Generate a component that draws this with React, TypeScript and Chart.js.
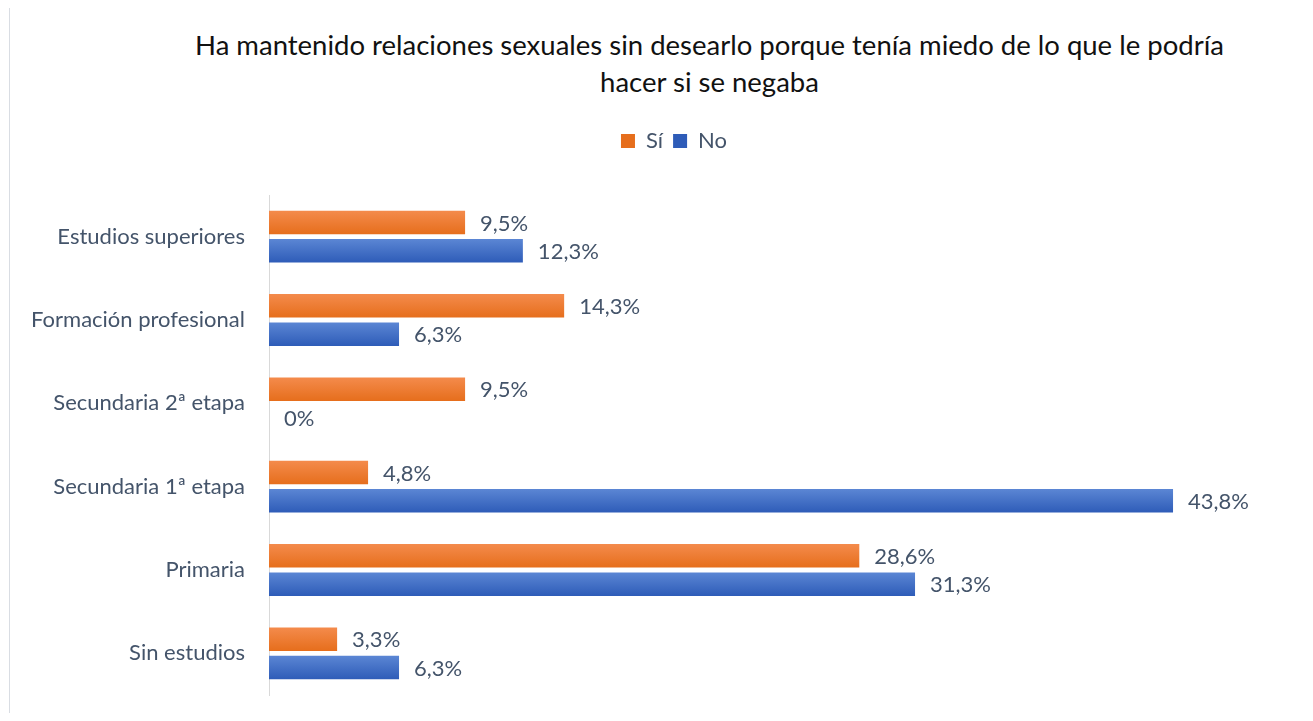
import React, { useEffect, useRef } from 'react';
import { Chart, registerables } from 'chart.js';

Chart.register(...registerables);

const categories = [
  'Estudios superiores',
  'Formación profesional',
  'Secundaria 2ª etapa',
  'Secundaria 1ª etapa',
  'Primaria',
  'Sin estudios',
];
const seriesNames = ['Sí', 'No'];
const siValues = [9.5, 14.3, 9.5, 4.8, 28.6, 3.3];
const noValues = [12.3, 6.3, 0, 43.8, 31.3, 6.3];
const titleLines = [
  'Ha mantenido relaciones sexuales sin desearlo porque tenía miedo de lo que le podría',
  'hacer si se negaba',
];
const xMin = 0;
const xMax = 50;

const FONT = 'Lato, "Noto Sans", sans-serif';
const TEXT = '#44546A';
const ORANGE = ['#F48B4C', '#E66E1C'];
const BLUE = ['#5B86D4', '#2E5CB8'];
const LEGEND_CENTER = 666;

const fmt = (v: number) => (v === 0 ? '0%' : v.toFixed(1).replace('.', ',') + '%');

const gradientPlugin = {
  id: 'barGradient',
  beforeDatasetsDraw(chart: any) {
    const ctx = chart.ctx;
    chart.data.datasets.forEach((ds: any, di: number) => {
      const meta = chart.getDatasetMeta(di);
      const [c1, c2] = ds.gradientColors;
      meta.data.forEach((el: any) => {
        const top = el.y - el.height / 2;
        const g = ctx.createLinearGradient(0, top, 0, top + el.height);
        g.addColorStop(0, c1);
        g.addColorStop(1, c2);
        el.options = { ...el.options, backgroundColor: g };
      });
    });
  },
};

const legendShiftPlugin = {
  id: 'legendShift',
  afterLayout(chart: any) {
    const lg = chart.legend;
    if (!lg) return;
    const dx = LEGEND_CENTER - (lg.left + lg.right) / 2;
    lg.left += dx;
    lg.right += dx;
    if (lg.adjustHitBoxes) lg.adjustHitBoxes();
  },
};

const labelPlugin = {
  id: 'valueLabels',
  afterDatasetsDraw(chart: any) {
    const ctx = chart.ctx;
    ctx.save();
    ctx.font = `22px ${FONT}`;
    ctx.fillStyle = TEXT;
    ctx.textBaseline = 'middle';
    ctx.textAlign = 'left';
    chart.data.datasets.forEach((ds: any, di: number) => {
      chart.getDatasetMeta(di).data.forEach((el: any, i: number) => {
        ctx.fillText(fmt(ds.data[i]), el.x + 15, el.y + 1);
      });
    });
    ctx.restore();
  },
};

export default function App() {
  const canvasRef = useRef<HTMLCanvasElement | null>(null);

  useEffect(() => {
    if (!canvasRef.current) return;
    const chart = new Chart(canvasRef.current, {
      type: 'bar',
      data: {
        labels: categories,
        datasets: [
          {
            label: seriesNames[0],
            data: siValues,
            backgroundColor: ORANGE[1],
            gradientColors: ORANGE,
            borderWidth: 0,
            categoryPercentage: 0.68,
            barPercentage: 0.83,
          } as any,
          {
            label: seriesNames[1],
            data: noValues,
            backgroundColor: BLUE[1],
            gradientColors: BLUE,
            borderWidth: 0,
            categoryPercentage: 0.68,
            barPercentage: 0.83,
          } as any,
        ],
      },
      options: {
        indexAxis: 'y',
        responsive: true,
        maintainAspectRatio: false,
        animation: false,
        layout: { padding: { top: 112, left: 0, right: 4, bottom: 18 } },
        plugins: {
          title: { display: false },
          tooltip: { enabled: false },
          legend: {
            display: true,
            position: 'top',
            labels: {
              boxWidth: 14,
              boxHeight: 14,
              color: TEXT,
              font: { family: FONT, size: 22 },
              padding: 10,
              generateLabels: (c: any) =>
                c.data.datasets.map((ds: any, i: number) => ({
                  text: ds.label,
                  fillStyle: ds.gradientColors[1],
                  strokeStyle: ds.gradientColors[1],
                  lineWidth: 0,
                  hidden: false,
                  datasetIndex: i,
                  fontColor: TEXT,
                })),
            },
          },
        },
        scales: {
          x: {
            position: 'top',
            min: xMin,
            max: xMax,
            display: true,
            grid: { display: false, drawTicks: false },
            border: { display: false },
            ticks: { display: false },
            afterFit: (s: any) => {
              s.height = 33;
            },
          },
          y: {
            grid: { display: false, drawTicks: false },
            border: { display: true, color: '#D9D9D9', width: 1 },
            ticks: {
              color: TEXT,
              font: { family: FONT, size: 22 },
              padding: 24,
            },
            afterFit: (s: any) => {
              s.width = 261;
              s.paddingTop = 0;
              s.paddingBottom = 0;
            },
          },
        },
      } as any,
      plugins: [gradientPlugin, legendShiftPlugin, labelPlugin],
    });
    return () => chart.destroy();
  }, []);

  return (
    <div style={{ position: 'relative', height: 705, overflow: 'hidden' }}>
      <div
        style={{
          position: 'absolute',
          left: 1,
          top: -1,
          width: 1500,
          height: 900,
          border: '1px solid #D9DDE3',
          boxSizing: 'border-box',
        }}
      />
      <div
        style={{
          position: 'absolute',
          left: 101.5,
          top: 18,
          width: 1200,
          textAlign: 'center',
          fontFamily: FONT,
          fontSize: 27.5,
          lineHeight: '37px',
          color: '#111111',
        }}
      >
        {titleLines.map((t, i) => (
          <div key={i}>{t}</div>
        ))}
      </div>
      <div style={{ position: 'absolute', left: 0, top: 0, width: 1297, height: 705 }}>
        <canvas ref={canvasRef} />
      </div>
    </div>
  );
}
